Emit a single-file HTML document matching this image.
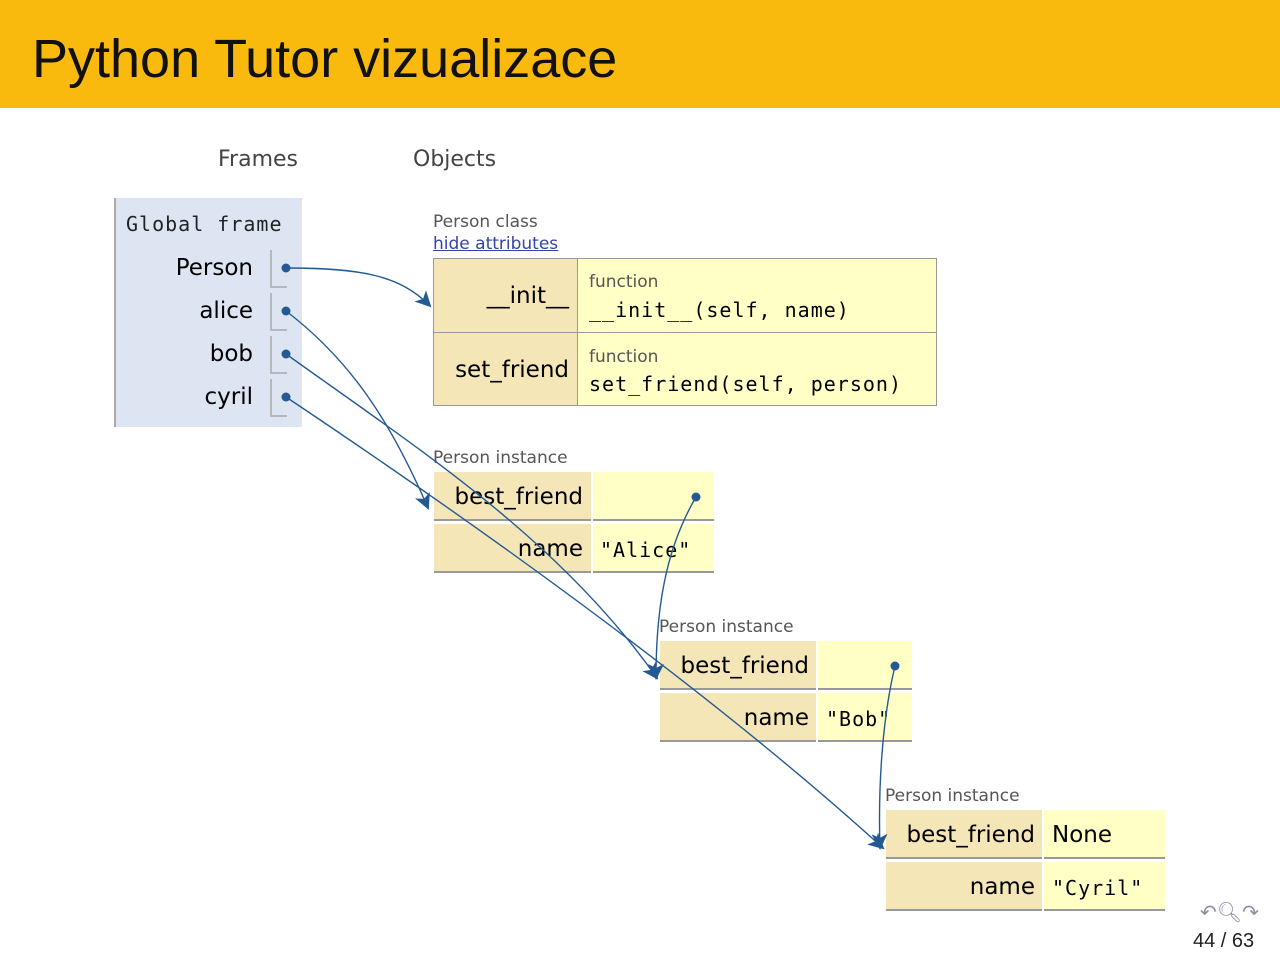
<!DOCTYPE html>
<html><head><meta charset="utf-8"><style>
*{margin:0;padding:0;box-sizing:border-box}
body{width:1280px;height:960px;background:#fff;position:relative;overflow:hidden;font-family:"DejaVu Sans","Liberation Sans",sans-serif;color:#000}
.a{position:absolute;white-space:nowrap}
.hdr{left:0;top:0;width:1280px;height:108px;background:#f9b90d}
.title{left:32px;top:28px;font-size:54px;color:#111;font-family:"Liberation Sans",sans-serif}
.lab{font-size:22px;color:#444}
.small{font-size:17px;color:#555}
.mono{font-family:"DejaVu Sans Mono","Liberation Mono",monospace}
.k{background:#f5e6b8}
.v{background:#ffffc6}
.key{font-size:23px;text-align:right}
</style></head><body>
<div class="a hdr"></div>
<div class="a title">Python Tutor vizualizace</div>
<div class="a lab" style="left:218px;top:147px">Frames</div>
<div class="a lab" style="left:413px;top:147px">Objects</div>

<div class="a" style="left:114px;top:198px;width:188px;height:229px;background:#dde5f2;border-left:2px solid #aaa"></div>
<div class="a mono" style="left:126px;top:212px;font-size:20px;color:#222;letter-spacing:1px">Global frame</div>
<div class="a key" style="left:130px;top:255px;width:123px">Person</div>
<div class="a key" style="left:130px;top:298px;width:123px">alice</div>
<div class="a key" style="left:130px;top:341px;width:123px">bob</div>
<div class="a key" style="left:130px;top:384px;width:123px">cyril</div>

<div class="a small" style="left:433px;top:212px">Person class</div>
<div class="a small" style="left:433px;top:234px;color:#3344aa;text-decoration:underline">hide attributes</div>
<div class="a" style="left:433px;top:258px;width:504px;height:148px;border:1px solid #999"></div>
<div class="a k" style="left:434px;top:259px;width:143px;height:146px"></div>
<div class="a v" style="left:578px;top:259px;width:358px;height:146px"></div>
<div class="a" style="left:577px;top:259px;width:1px;height:146px;background:#999"></div>
<div class="a" style="left:434px;top:332px;width:502px;height:1px;background:#999"></div>
<div class="a key" style="left:434px;top:283px;width:135px">__init__</div>
<div class="a key" style="left:434px;top:357px;width:135px">set_friend</div>
<div class="a small" style="left:589px;top:272px">function</div>
<div class="a mono" style="left:589px;top:298px;font-size:20px;letter-spacing:1px">__init__(self, name)</div>
<div class="a small" style="left:589px;top:347px">function</div>
<div class="a mono" style="left:589px;top:372px;font-size:20px;letter-spacing:1px">set_friend(self, person)</div>

<div class="a small" style="left:433px;top:448px">Person instance</div>
<div class="a k" style="left:434px;top:472px;width:157px;height:49px;border-bottom:2px solid #999"></div>
<div class="a v" style="left:593px;top:472px;width:121px;height:49px;border-bottom:2px solid #999"></div>
<div class="a k" style="left:434px;top:524px;width:157px;height:49px;border-bottom:2px solid #999"></div>
<div class="a v" style="left:593px;top:524px;width:121px;height:49px;border-bottom:2px solid #999"></div>
<div class="a key" style="left:434px;top:484px;width:149px">best_friend</div>
<div class="a key" style="left:434px;top:536px;width:149px">name</div>
<div class="a mono" style="left:600px;top:538px;font-size:20px;letter-spacing:1px">"Alice"</div>

<div class="a small" style="left:659px;top:617px">Person instance</div>
<div class="a k" style="left:660px;top:641px;width:156px;height:49px;border-bottom:2px solid #999"></div>
<div class="a v" style="left:818px;top:641px;width:94px;height:49px;border-bottom:2px solid #999"></div>
<div class="a k" style="left:660px;top:693px;width:156px;height:49px;border-bottom:2px solid #999"></div>
<div class="a v" style="left:818px;top:693px;width:94px;height:49px;border-bottom:2px solid #999"></div>
<div class="a key" style="left:660px;top:653px;width:149px">best_friend</div>
<div class="a key" style="left:660px;top:705px;width:149px">name</div>
<div class="a mono" style="left:826px;top:707px;font-size:20px;letter-spacing:1px">"Bob"</div>

<div class="a small" style="left:885px;top:786px">Person instance</div>
<div class="a k" style="left:886px;top:810px;width:156px;height:49px;border-bottom:2px solid #999"></div>
<div class="a v" style="left:1044px;top:810px;width:121px;height:49px;border-bottom:2px solid #999"></div>
<div class="a k" style="left:886px;top:862px;width:156px;height:49px;border-bottom:2px solid #999"></div>
<div class="a v" style="left:1044px;top:862px;width:121px;height:49px;border-bottom:2px solid #999"></div>
<div class="a key" style="left:886px;top:822px;width:149px">best_friend</div>
<div class="a" style="left:1052px;top:822px;font-size:23px">None</div>
<div class="a key" style="left:886px;top:874px;width:149px">name</div>
<div class="a mono" style="left:1052px;top:876px;font-size:20px;letter-spacing:1px">"Cyril"</div>

<div class="a" style="left:1200px;top:900px;font-size:20px;color:#8a8fa8">↶🔍︎↷</div>
<div class="a" style="left:1193px;top:930px;font-size:20px;color:#222;font-family:'Liberation Sans',sans-serif">44 / 63</div>

<svg class="a" style="left:0;top:0" width="1280" height="960">
<defs><marker id="M" markerWidth="16" markerHeight="16" refX="14" refY="8" orient="auto" markerUnits="userSpaceOnUse"><path d="M0,0 L16,8 L0,16 L4,8z" fill="#245a94"/></marker></defs>
<g stroke="#aaa" stroke-width="1.5" fill="none">
<path d="M271,250 V287 H287"/><path d="M271,293 V330 H287"/><path d="M271,336 V373 H287"/><path d="M271,379 V416 H287"/>
</g>
<g fill="#245a94"><circle cx="286" cy="268" r="4.5"/><circle cx="286" cy="311" r="4.5"/><circle cx="286" cy="354" r="4.5"/><circle cx="286" cy="397" r="4.5"/><circle cx="696" cy="497" r="4.5"/><circle cx="895" cy="666" r="4.5"/></g>
<g stroke="#245a94" stroke-width="1.4" fill="none">
<path d="M286,268 C360,268 400,275 430,306" marker-end="url(#M)"/>
<path d="M286,311 C350,360 390,420 428,508" marker-end="url(#M)"/>
<path d="M286,354 C420,450 560,540 657,678" marker-end="url(#M)"/>
<path d="M286,397 C500,540 720,700 883,848" marker-end="url(#M)"/>
<path d="M696,497 C665,550 656,610 656,678" marker-end="url(#M)"/>
<path d="M895,666 C882,720 878,790 880,848" marker-end="url(#M)"/>
</g>
</svg>
</body></html>
